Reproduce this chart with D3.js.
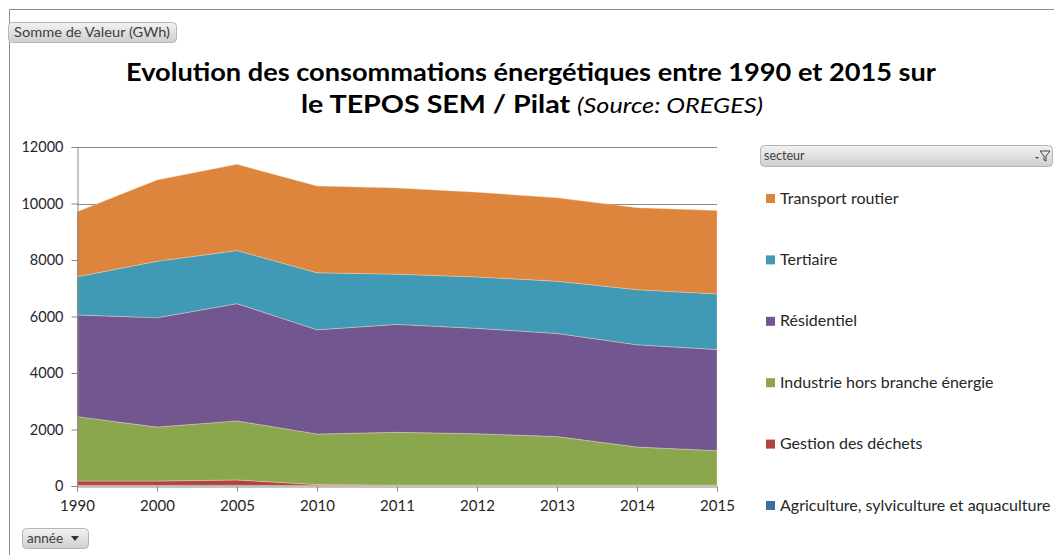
<!DOCTYPE html>
<html><head><meta charset="utf-8">
<script src="https://cdn.jsdelivr.net/npm/d3@7"></script>
<style>
body{margin:0;background:#fff;}
svg{display:block;font-family:Lato,"Open Sans",sans-serif;}
</style></head>
<body><svg id="c" width="1054" height="555"></svg>
<script>
const years = ["1990","2000","2005","2010","2011","2012","2013","2014","2015"];
const agriculture = [25,25,25,20,20,20,20,20,20];
const gestionDechets = [150,150,190,30,10,10,10,10,10];
const industrie = [2280,1910,2090,1790,1870,1820,1720,1350,1220];
const residentiel = [3600,3870,4150,3690,3820,3730,3650,3620,3580];
const tertiaire = [1350,2000,1880,2020,1780,1820,1850,1950,1970];
const transport = [2300,2880,3050,3070,3050,3000,2950,2900,2950];
const yTicks = [0,2000,4000,6000,8000,10000,12000];
const seriesNames = ["Agriculture, sylviculture et aquaculture","Gestion des déchets","Industrie hors branche énergie","Résidentiel","Tertiaire","Transport routier"];
const seriesValues = [agriculture,gestionDechets,industrie,residentiel,tertiaire,transport];
const colors = ["#3D6EA8","#B1423F","#8AA74E","#72568F","#4099B5","#DD843D"];

const svg = d3.select("#c");
const defs = svg.append("defs");
const g1 = defs.append("linearGradient").attr("id","btn").attr("x1",0).attr("y1",0).attr("x2",0).attr("y2",1);
g1.append("stop").attr("offset","0%").attr("stop-color","#f2f2f2");
g1.append("stop").attr("offset","100%").attr("stop-color","#cfcfcf");

// outer frame
svg.append("path").attr("d","M9.5,555 V9.5 H1054").attr("fill","none").attr("stroke","#8c8c8c");

// top button
svg.append("rect").attr("x",8.5).attr("y",22.5).attr("width",168).attr("height",20).attr("rx",4)
  .attr("fill","url(#btn)").attr("stroke","#b5b5b5");
const bt = svg.append("text").attr("x",14).attr("y",37).attr("fill","#404040")
  .attr("font-family","Lato,sans-serif").attr("font-size",13.5).text("Somme de Valeur (GWh)");

// title
const t1 = svg.append("text").attr("x",531).attr("y",81).attr("text-anchor","middle")
  .attr("font-size",25).attr("font-weight","bold").attr("fill","#000")
  .text("Evolution des consommations énergétiques entre 1990 et 2015 sur");
const t2 = svg.append("text").attr("x",532).attr("y",113).attr("text-anchor","middle")
  .attr("font-size",25).attr("fill","#000");
t2.append("tspan").attr("font-weight","bold").text("le TEPOS SEM / Pilat ");
t2.append("tspan").attr("font-style","italic").attr("font-size",22).text("(Source: OREGES)");
function fit(sel, w){const L=sel.node().getComputedTextLength(); if(Math.abs(L-w)>4){sel.attr("textLength",w).attr("lengthAdjust","spacingAndGlyphs");}}
fit(t1,810); fit(t2,462); fit(bt,156);

// scales
const x = d3.scalePoint().domain(years).range([77,717]);
const y = d3.scaleLinear().domain([0,12000]).range([486,147]);

// gridlines
svg.append("g").selectAll("line").data(yTicks.filter(d=>d>0)).join("line")
  .attr("x1",77).attr("x2",717).attr("y1",d=>Math.round(y(d))+0.5).attr("y2",d=>Math.round(y(d))+0.5)
  .attr("stroke","#8a8a8a").attr("stroke-width",1);

// stacked areas
const table = years.map((yr,i)=>{const o={year:yr}; seriesNames.forEach((n,k)=>o[n]=seriesValues[k][i]); return o;});
const stack = d3.stack().keys(seriesNames)(table);
const area = d3.area().x(d=>x(d.data.year)).y0(d=>y(d[0])).y1(d=>y(d[1]));
svg.append("g").selectAll("path").data(stack).join("path")
  .attr("d",area).attr("fill",(d,i)=>colors[i])
  .attr("stroke","#f3d9c0").attr("stroke-opacity",0.5).attr("stroke-width",0.8);

// axes
const yAxis = d3.axisLeft(y).tickValues(yTicks).tickSize(6).tickPadding(8).tickFormat(d3.format("d"));
const ya = svg.append("g").attr("transform","translate(77.5,0)").call(yAxis);
ya.select(".domain").attr("stroke","#8a8a8a");
ya.selectAll(".tick line").attr("stroke","#8a8a8a");
ya.selectAll("text").attr("font-size",14.5).attr("fill","#262626").attr("font-family","Lato,sans-serif");

const xAxis = d3.axisBottom(x).tickSize(5).tickPadding(9);
const xa = svg.append("g").attr("transform","translate(0,486.5)").call(xAxis);
xa.select(".domain").attr("stroke","#8a8a8a");
xa.selectAll(".tick line").attr("stroke","#8a8a8a");
xa.selectAll("text").attr("font-size",15).attr("fill","#262626").attr("font-family","Lato,sans-serif");

// bottom button
svg.append("rect").attr("x",22.5).attr("y",528.5).attr("width",66).attr("height",20).attr("rx",4)
  .attr("fill","url(#btn)").attr("stroke","#b5b5b5");
svg.append("text").attr("x",27).attr("y",543).attr("font-family","Lato,sans-serif")
  .attr("font-size",13.5).attr("fill","#404040").text("année");
svg.append("path").attr("d","M71,536 L79,536 L75,541 Z").attr("fill","#333");

// legend header
svg.append("rect").attr("x",760.5).attr("y",145.5).attr("width",292).attr("height",21).attr("rx",4)
  .attr("fill","url(#btn)").attr("stroke","#b5b5b5");
svg.append("text").attr("x",764).attr("y",160).attr("font-family","Lato,sans-serif")
  .attr("font-size",12.5).attr("fill","#404040").text("secteur");
svg.append("path").attr("d","M1040,151 L1050,151 L1046,156 L1046,161 L1044,160 L1044,156 Z")
  .attr("fill","none").attr("stroke","#444").attr("stroke-width",1);
svg.append("path").attr("d","M1035,157 L1039,157 L1037,159 Z").attr("fill","#444");

// legend items
const legendOrder = seriesNames.map((n,i)=>({n,c:colors[i]})).reverse();
const lg = svg.append("g").selectAll("g").data(legendOrder).join("g")
  .attr("transform",(d,i)=>`translate(766,${198+i*61.4})`);
lg.append("rect").attr("x",0).attr("y",-4).attr("width",9).attr("height",9).attr("fill",d=>d.c);
lg.append("text").attr("x",14).attr("y",5.5).attr("font-size",16).attr("fill","#262626").text(d=>d.n);
</script></body></html>
